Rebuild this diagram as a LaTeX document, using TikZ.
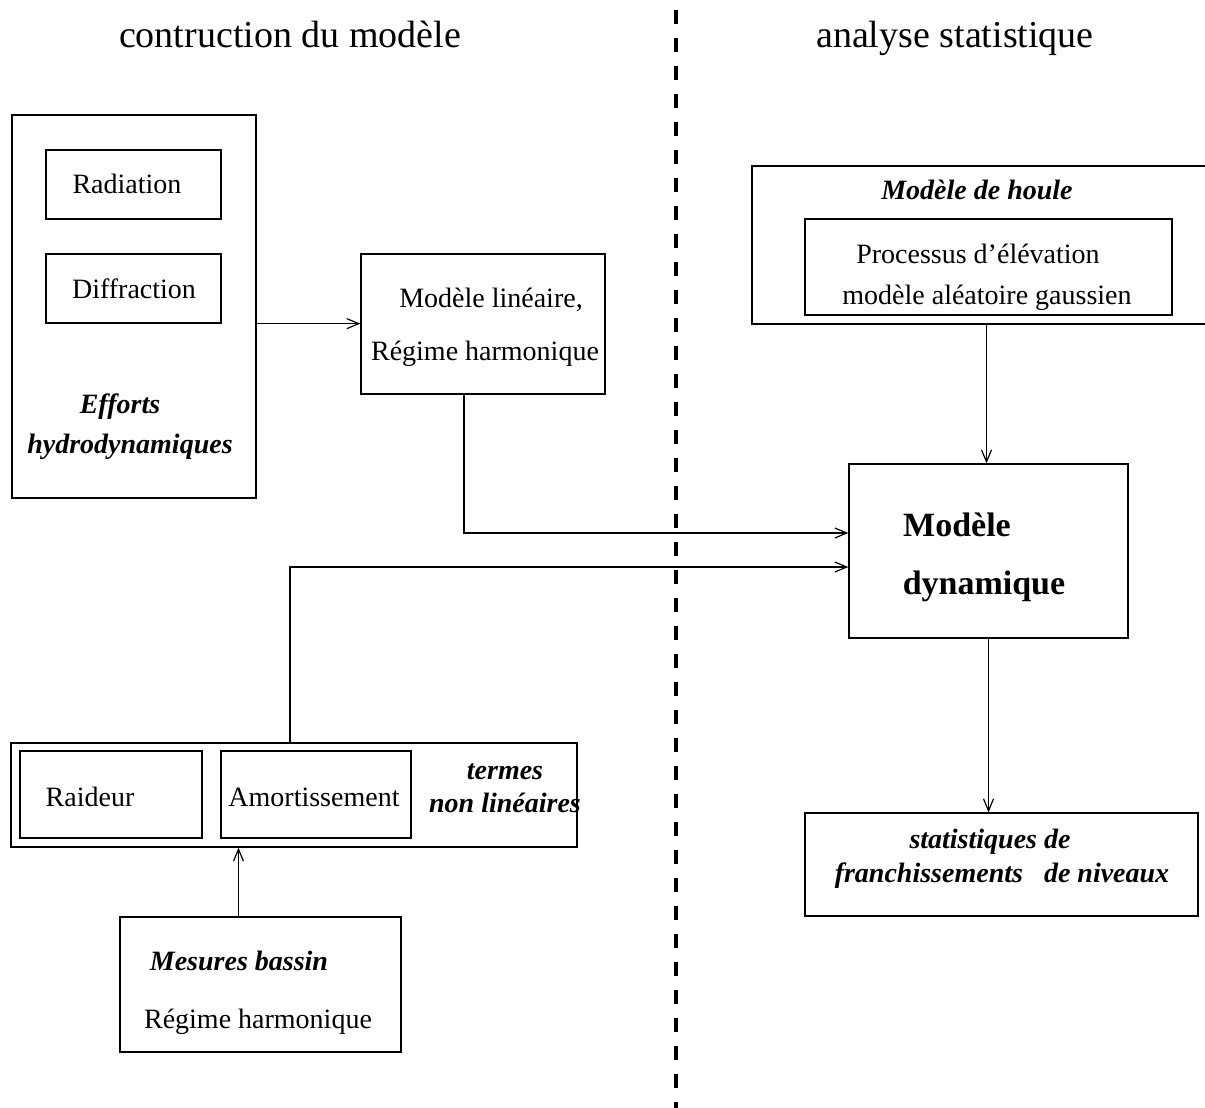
\documentclass[tikz,border=0pt]{standalone}
\usepackage{fontspec}
\setmainfont{Liberation Serif}
\usetikzlibrary{arrows.meta,fit}
\begin{document}
\begin{tikzpicture}[x=1pt,y=-1pt,
  box/.style={draw, line width=1.3pt, inner sep=0pt},
  txt/.style={font=\fontsize{28}{33}\selectfont, anchor=base, inner sep=0pt},
  bitxt/.style={font=\fontsize{28}{33}\selectfont\bfseries\itshape, anchor=base, inner sep=0pt},
  bigtxt/.style={font=\fontsize{34}{40}\selectfont\bfseries, anchor=base, inner sep=0pt},
  titletxt/.style={font=\fontsize{38}{44}\selectfont, anchor=base, inner sep=0pt},
  arr/.style={line width=1.2pt, -{Straight Barb[length=12pt,width=10pt,line width=1.2pt]}},
  sep/.style={line width=4pt, dash pattern=on 14pt off 14pt}
]
\useasboundingbox (0,0) rectangle (1205,1108);

% separator
\coordinate (septop) at (676,10);
\coordinate (sepbot) at (676,1108);
\draw[sep] (septop) -- (sepbot);

% titles
\node[titletxt] (tleft) at (290,48) {contruction du modèle};
\node[titletxt] (tright) at (955,48) {analyse statistique};

% Efforts hydrodynamiques
\node[box, fit={(12,115)(256,498)}] (eff) {};
\node[box, fit={(46,150)(221,219)}] (rad) {};
\node[box, fit={(46,254)(221,323)}] (diff) {};
\node[txt] (radt) at (127,193) {Radiation};
\node[txt] (difft) at (134,298) {Diffraction};
\node[bitxt] (efft1) at (120,413) {Efforts};
\node[bitxt] (efft2) at (130,453) {hydrodynamiques};

% Modele lineaire
\node[box, fit={(361,254)(605,394)}] (lin) {};
\node[txt] (lint1) at (491,307) {Modèle linéaire,};
\node[txt] (lint2) at (485,360) {Régime harmonique};

% Modele de houle
\node[box, fit={(752,166)(1215,324)}] (houle) {};
\node[box, fit={(805,219)(1172,315)}] (proc) {};
\node[bitxt] (houlet) at (977,199) {Modèle de houle};
\node[txt] (proct1) at (978,263) {Processus d’élévation};
\node[txt] (proct2) at (987,304) {modèle aléatoire gaussien};

% Modele dynamique
\node[box, fit={(849,464)(1128,638)}] (dyn) {};
\node[bigtxt] (dynt1) at (957,536) {Modèle};
\node[bigtxt] (dynt2) at (984,594) {dynamique};

% statistiques
\node[box, fit={(805,813)(1198,916)}] (stats) {};
\node[bitxt] (statst1) at (990,848) {statistiques de};
\node[bitxt] (statst2) at (1002,882) {franchissements\ \ \ de niveaux};

% termes non lineaires
\node[box, fit={(11,743)(577,847)}] (termes) {};
\node[box, fit={(20,751)(202,838)}] (raid) {};
\node[box, fit={(221,751)(411,838)}] (amor) {};
\node[txt] (raidt) at (90,806) {Raideur};
\node[txt] (amort) at (314,806) {Amortissement};
\node[bitxt] (termt1) at (505,779) {termes};
\node[bitxt] (termt2) at (505,812) {non linéaires};

% Mesures bassin
\node[box, fit={(120,917)(401,1052)}] (mes) {};
\node[bitxt] (mest1) at (239,970) {Mesures bassin};
\node[txt] (mest2) at (258,1028) {Régime harmonique};

% connectors
\draw[arr] (eff.east |- diff.south) -- (lin.west |- diff.south);
\draw[arr] ([xshift=-19pt]lin.south) |- ([yshift=18pt]dyn.west);
\draw[arr] ([xshift=-4pt]termes.north) |- ([yshift=-16pt]dyn.west);
\draw[arr] ([xshift=-2pt]dyn.north |- houle.south) -- ([xshift=-2pt]dyn.north);
\draw[arr] (dyn.south) -- (dyn.south |- stats.north);
\draw[arr] ([xshift=-22pt]mes.north) -- ([xshift=-22pt]mes.north |- termes.south);
\end{tikzpicture}
\end{document}
